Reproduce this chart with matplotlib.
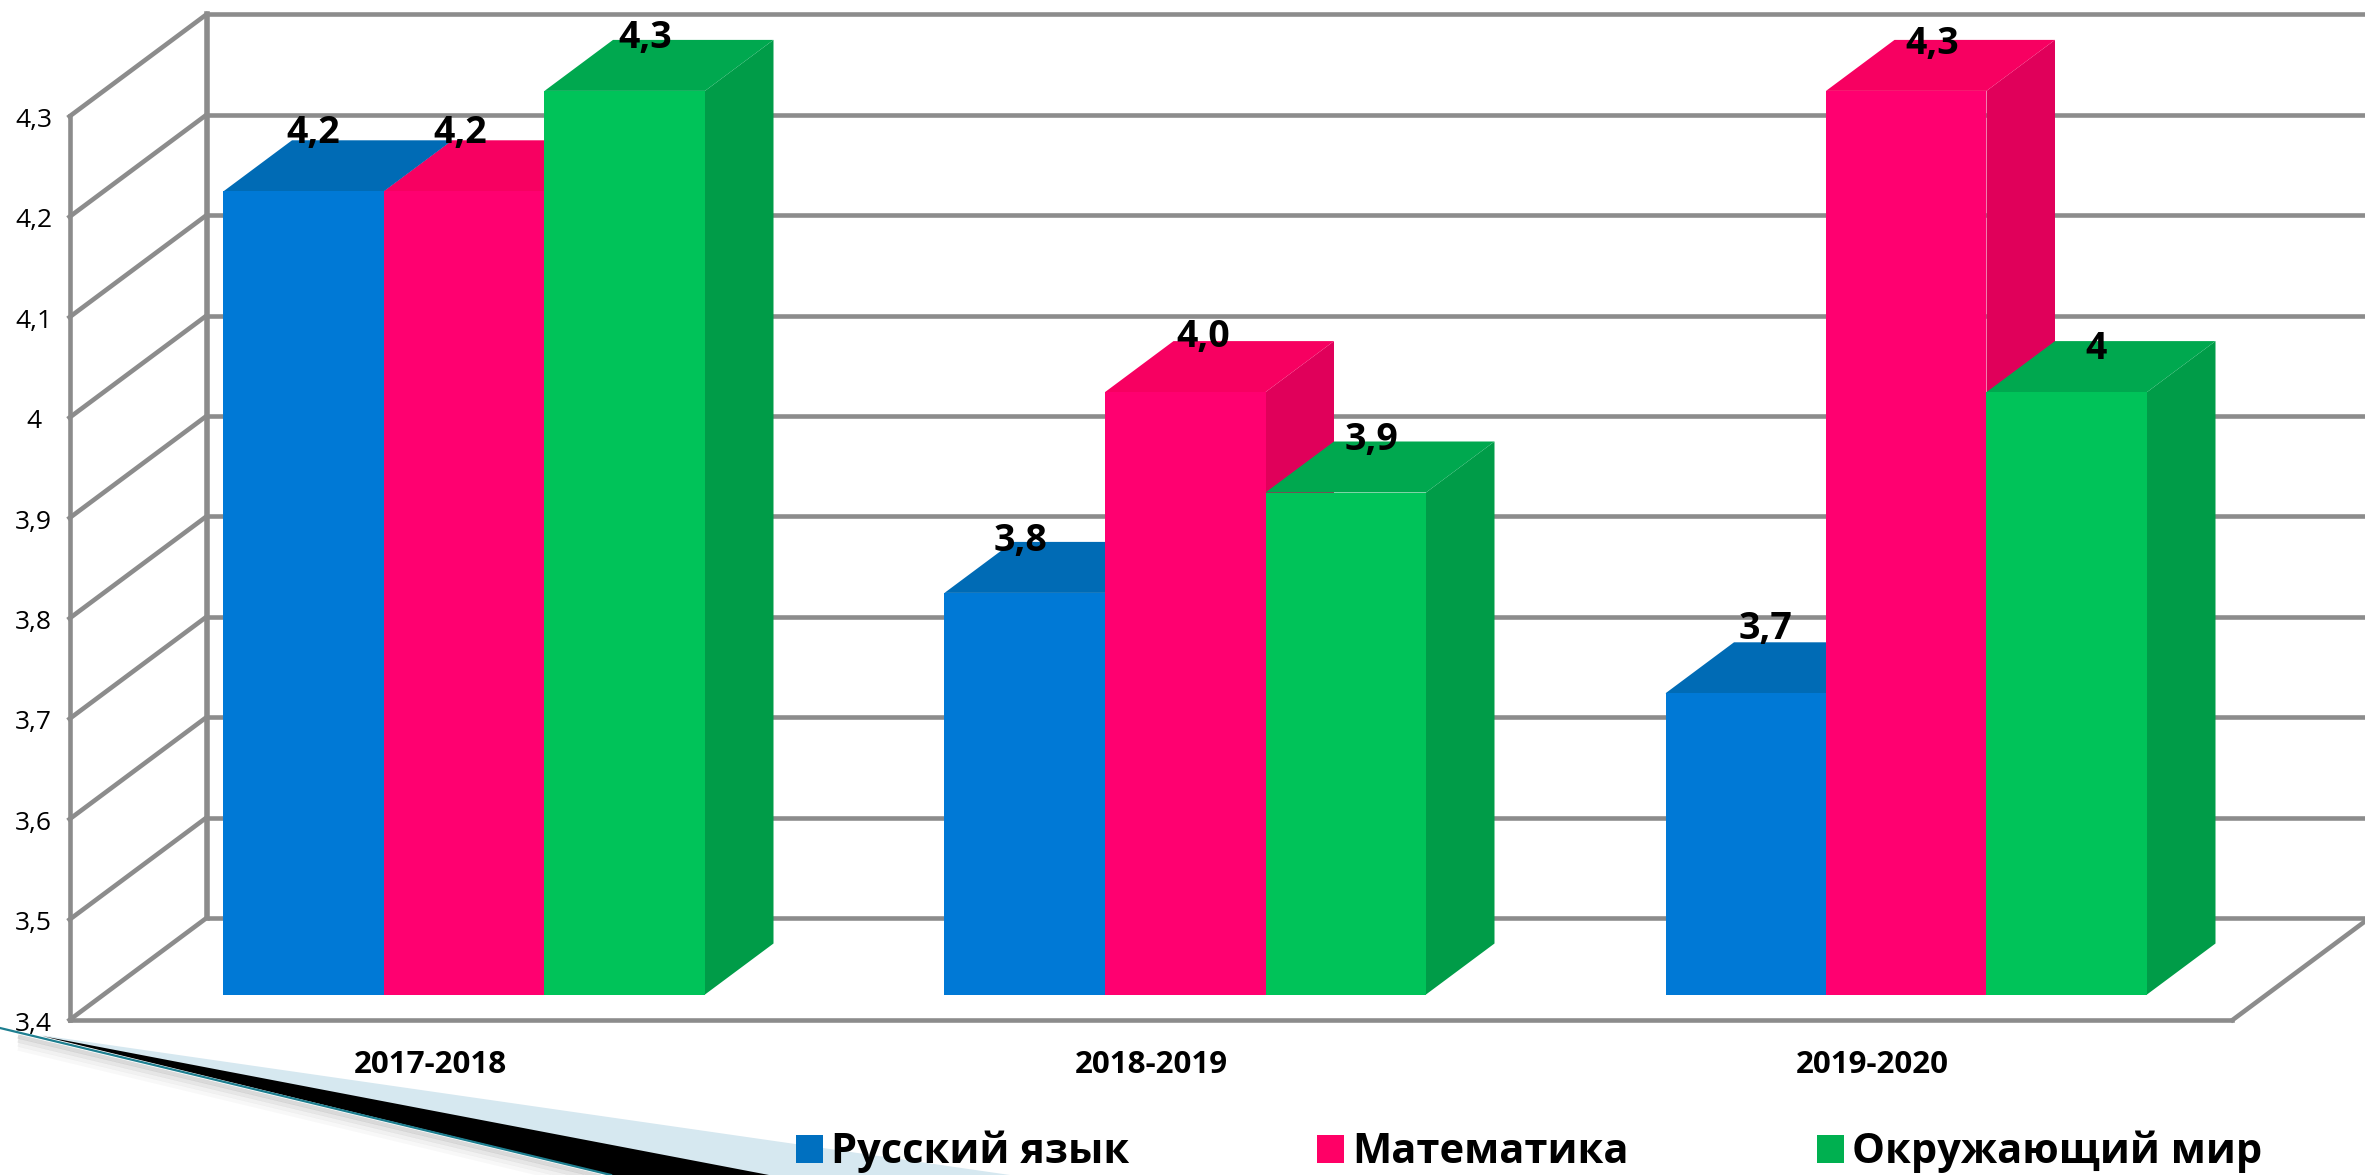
import matplotlib
matplotlib.use("Agg")
import matplotlib.pyplot as plt
from matplotlib.patches import Rectangle

plt.rcParams["font.family"] = ["Open Sans", "DejaVu Sans"]

years = ["2017-2018", "2018-2019", "2019-2020"]
russian = [4.2, 3.8, 3.7]
maths = [4.2, 4.0, 4.3]
world = [4.3, 3.9, 4.0]
series_names = ["Русский язык", "Математика", "Окружающий мир"]
value_labels = [["4,2", "3,8", "3,7"], ["4,2", "4,0", "4,3"], ["4,3", "3,9", "4"]]
ticks = [3.4, 3.5, 3.6, 3.7, 3.8, 3.9, 4.0, 4.1, 4.2, 4.3]
tick_labels = ["3,4", "3,5", "3,6", "3,7", "3,8", "3,9", "4", "4,1", "4,2", "4,3"]

W, H = 2365, 1175
PX_X = 1 / 721  # one category is 721 px wide
PX_Y = 0.1 / 100.4  # 0.1 on the value axis is 100.4 px
DEPTH_X = 137 * PX_X
DEPTH_Y = 102 * PX_Y
BAR_W = 160.5 * PX_X
GRID = "#8c8c8c"

front_cols = ["#0079D6", "#FF0070", "#00C359"]
top_cols = ["#006BB5", "#F70061", "#00A84F"]
side_cols = ["#0062A6", "#E0005A", "#009C48"]
legend_cols = ["#0070C0", "#FF0066", "#00B050"]

# label nudges from the middle of the bar's front, in px
nudges = [[(10, 58), (-4, 52), (20, 64)], [(-4, 58), (18, 55), (26, 47)], [(21, 53), (26, 53), (29, 43)]]


def proj(x, v, d):
    return x + d * DEPTH_X, v + d * DEPTH_Y


def quad(ax, pts, color, z):
    xs, ys = zip(*[proj(*p) for p in pts])
    ax.fill(xs, ys, color=color, lw=0, zorder=z)


fig = plt.figure(figsize=(W / 100, H / 100), dpi=100, facecolor="white")

# swoosh behind the chart, in picture px
deco = fig.add_axes([0, 0, 1, 1], zorder=0)
deco.set_xlim(0, W)
deco.set_ylim(H, 0)
deco.axis("off")
deco.fill([40, 1010, 611], [1035, 1175, 1175], color="#D6E8F0", lw=0)
for off, alpha in [(4, 0.28), (8, 0.18), (12, 0.10), (16, 0.05)]:
    deco.plot([20, 611], [1033 + off, 1175 + off], color="#777777", lw=3, alpha=alpha)
deco.fill([42, 769, 611], [1036, 1175, 1175], color="black", lw=0)
deco.plot([0, 611], [1028, 1175], color="#1E7F90", lw=1.6)

ax = fig.add_axes([0, 0, 1, 1], zorder=1)
ax.set_xlim(-430 * PX_X, (W - 430) * PX_X)
ax.set_ylim(3.4 - (H - 1020) * PX_Y, 3.4 + 1020 * PX_Y)
ax.axis("off")
ax.patch.set_alpha(0)

# walls and floor
x0, x1 = -0.5, len(years) - 0.5
for t in ticks:
    bx, by = proj(x0, t, 1)
    ex, ey = proj(x1, t, 1)
    ax.plot([bx, ex], [by, ey], color=GRID, lw=3.3, zorder=1, solid_capstyle="butt")
    fx, fy = proj(x0, t, 0)
    ax.plot([fx, bx], [fy, by], color=GRID, lw=3.3, zorder=1)
ax.plot(*zip(proj(x0, ticks[0], 1), proj(x0, ticks[-1], 1)), color=GRID, lw=4, zorder=1)
ax.plot(*zip(proj(x0, ticks[0], 0), proj(x0, ticks[-1], 0)), color=GRID, lw=3.3, zorder=1)
ax.plot(*zip(proj(x0, ticks[0], 0), proj(x1, ticks[0], 0)), color=GRID, lw=3.3, zorder=1)
ax.plot(*zip(proj(x1, ticks[0], 0), proj(x1, ticks[0], 1)), color=GRID, lw=3.3, zorder=1)

for t, lab in zip(ticks, tick_labels):
    ax.text(x0 - 36 * PX_X, t - 4 * PX_Y, lab, ha="center", va="center", fontsize=19, color="black", zorder=6)

# bars, painted left to right so each front hides the side before it
d0, d1 = 0.25, 0.75
z = 2
for g in range(len(years)):
    for s, vals in enumerate([russian, maths, world]):
        left = g + (s - 1.5) * BAR_W
        right = left + BAR_W
        v = vals[g]
        base = ticks[0]
        quad(ax, [(right, base, d0), (right, base, d1), (right, v, d1), (right, v, d0)], side_cols[s], z)
        quad(ax, [(left, v, d0), (right, v, d0), (right, v, d1), (left, v, d1)], top_cols[s], z + 0.1)
        quad(ax, [(left, base, d0), (right, base, d0), (right, v, d0), (left, v, d0)], front_cols[s], z + 0.2)
        z += 1

for s, vals in enumerate([russian, maths, world]):
    for g, v in enumerate(vals):
        cx, cy = proj(g + (s - 1) * BAR_W, v, d0)
        nx, ny = nudges[s][g]
        ax.annotate(value_labels[s][g], (cx, cy), xytext=(nx * 0.72, ny * 0.72),
                    textcoords="offset points", ha="center", va="center",
                    fontsize=27, fontweight="bold", color="black", zorder=50)

for g, lab in enumerate(years):
    ax.text(g, 3.4 - 45 * PX_Y, lab, ha="center", va="center", fontsize=22.6,
            fontweight="bold", color="black", zorder=6)

handles = [Rectangle((0, 0), 1, 1, color=c, lw=0) for c in legend_cols]
ax.legend(handles, series_names, loc="center left", bbox_to_anchor=(796 / W, 1 - 1152 / H),
          bbox_transform=fig.transFigure, ncol=3, frameon=False, borderpad=0, borderaxespad=0,
          prop={"size": 30, "weight": "bold"}, handlelength=0.65, handleheight=0.65,
          handletextpad=0.2, columnspacing=4.5)

fig.savefig("out.png", dpi=100)
plt.close(fig)
